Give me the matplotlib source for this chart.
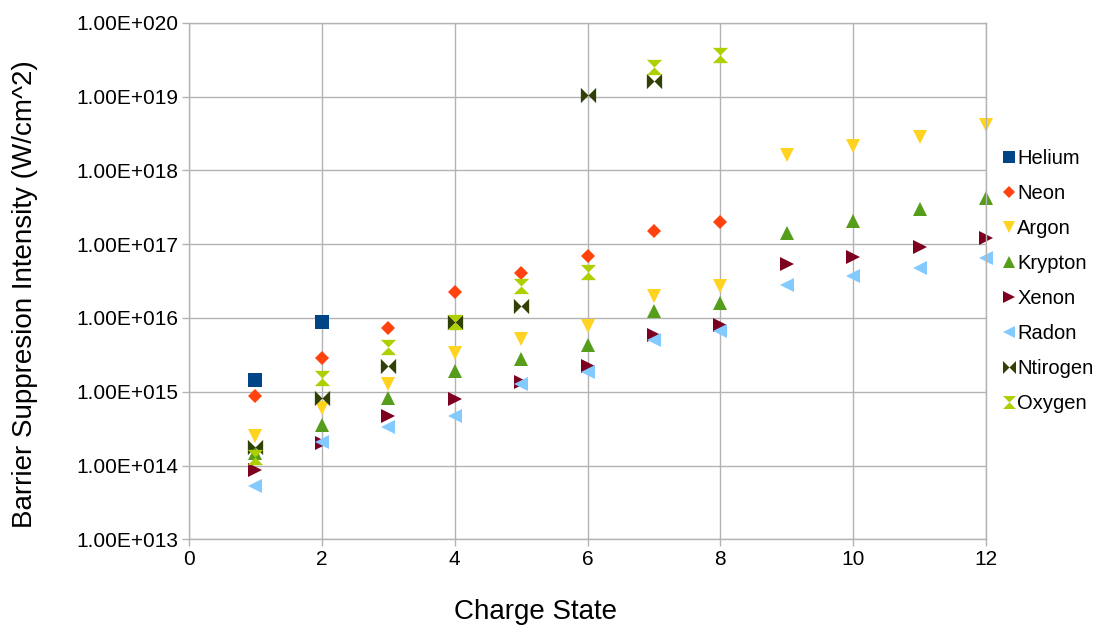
import math

import matplotlib
matplotlib.use("Agg")
import matplotlib.pyplot as plt
from matplotlib.path import Path
from matplotlib.ticker import FuncFormatter, FixedLocator

# charge states per element
charge_full = [1, 2, 3, 4, 5, 6, 7, 8, 9, 10, 11, 12]
charge_helium = [1, 2]
charge_neon = [1, 2, 3, 4, 5, 6, 7, 8]
charge_nitrogen = [1, 2, 3, 4, 5, 6, 7]
charge_oxygen = [1, 2, 3, 4, 5, 6, 7, 8]

helium = [1.46e15, 8.8e15]
neon = [8.7e14, 2.83e15, 7.2e15, 2.22e16, 4.1e16, 6.97e16, 1.52e17, 2.01e17]
argon = [2.5e14, 5.96e14, 1.26e15, 3.3e15, 5.13e15, 7.76e15, 1.98e16, 2.7e16,
         1.61e18, 2.15e18, 2.85e18, 4.1e18]
krypton = [1.49e14, 3.54e14, 8.1e14, 1.93e15, 2.75e15, 4.26e15, 1.25e16, 1.58e16,
           1.4e17, 2.07e17, 2.95e17, 4.17e17]
xenon = [8.7e13, 2.04e14, 4.73e14, 7.96e14, 1.37e15, 2.23e15, 5.86e15, 8.0e15,
         5.3e16, 6.76e16, 9.2e16, 1.2e17]
radon = [5.3e13, 2.1e14, 3.3e14, 4.7e14, 1.27e15, 1.87e15, 5.0e15, 6.7e15,
         2.79e16, 3.7e16, 4.79e16, 6.4e16]
nitrogen = [1.8e14, 8.1e14, 2.25e15, 8.9e15, 1.46e16, 1.05e19, 1.64e19]
oxygen = [1.3e14, 1.52e15, 4.07e15, 8.9e15, 2.73e16, 4.15e16, 2.54e19, 3.65e19]

y_ticks = [1e13, 1e14, 1e15, 1e16, 1e17, 1e18, 1e19, 1e20]
x_ticks = [0, 2, 4, 6, 8, 10, 12]

# LibreOffice-style custom markers
bowtie = Path([(-1, -1), (-1, 1), (0, 0), (1, 1), (1, -1), (0, 0), (-1, -1)],
              [Path.MOVETO] + [Path.LINETO] * 5 + [Path.CLOSEPOLY])
hourglass = Path([(-1, 1), (1, 1), (0, 0), (1, -1), (-1, -1), (0, 0), (-1, 1)],
                 [Path.MOVETO] + [Path.LINETO] * 5 + [Path.CLOSEPOLY])

series = [
    ("Helium", charge_helium, helium, "s", 10, "#004586"),
    ("Neon", charge_neon, neon, "D", 7.5, "#ff420e"),
    ("Argon", charge_full, argon, "v", 10, "#ffd320"),
    ("Krypton", charge_full, krypton, "^", 10, "#579d1c"),
    ("Xenon", charge_full, xenon, ">", 10, "#7e0021"),
    ("Radon", charge_full, radon, "<", 10, "#83caff"),
    ("Ntirogen", charge_nitrogen, nitrogen, bowtie, 11, "#314004"),
    ("Oxygen", charge_oxygen, oxygen, hourglass, 11, "#aecf00"),
]

plt.rcParams["font.family"] = ["Liberation Sans", "DejaVu Sans"]

fig = plt.figure(figsize=(11.1, 6.31), dpi=100)
ax = fig.add_axes([189 / 1110, 1 - 539.3 / 631, (986 - 189) / 1110, (539.3 - 22.7) / 631])

for name, xs, ys, marker, ms, color in series:
    ax.plot(xs, ys, linestyle="none", marker=marker, markersize=ms,
            color=color, markeredgewidth=0, label=name, clip_on=False)

ax.set_yscale("log")
ax.set_xlim(0, 12)
ax.set_ylim(1e13, 1e20)
ax.xaxis.set_major_locator(FixedLocator(x_ticks))
ax.yaxis.set_major_locator(FixedLocator(y_ticks))
ax.yaxis.set_minor_locator(FixedLocator([]))


def sci3(v, pos):
    exp = int(round(math.log10(v)))
    return f"1.00E+{exp:03d}"


ax.yaxis.set_major_formatter(FuncFormatter(sci3))
ax.grid(True, color="#b3b3b3", linewidth=1)
ax.set_axisbelow(True)
for s in ax.spines.values():
    s.set_color("#b3b3b3")
    s.set_linewidth(1)
ax.tick_params(axis="both", colors="#b3b3b3", labelcolor="black",
               labelsize=15, length=5, width=1, direction="out")
ax.tick_params(axis="x", pad=3)
ax.tick_params(axis="y", pad=3)

fig.text(535 / 1110, 1 - 612 / 631, "Charge State", fontsize=20,
         ha="center", va="center")
fig.text(25 / 1110, 1 - 294 / 631, "Barrier Suppresion Intensity (W/cm^2)",
         fontsize=20, rotation=90, ha="center", va="center")

leg = fig.legend(loc="center left", bbox_to_anchor=(1003 / 1110, 1 - 281 / 631),
                 frameon=False, fontsize=14.5, handlelength=0.6, handletextpad=0.1,
                 labelspacing=0.8, borderpad=0, borderaxespad=0, markerscale=0.85)

fig.savefig("out.png", dpi=100)
